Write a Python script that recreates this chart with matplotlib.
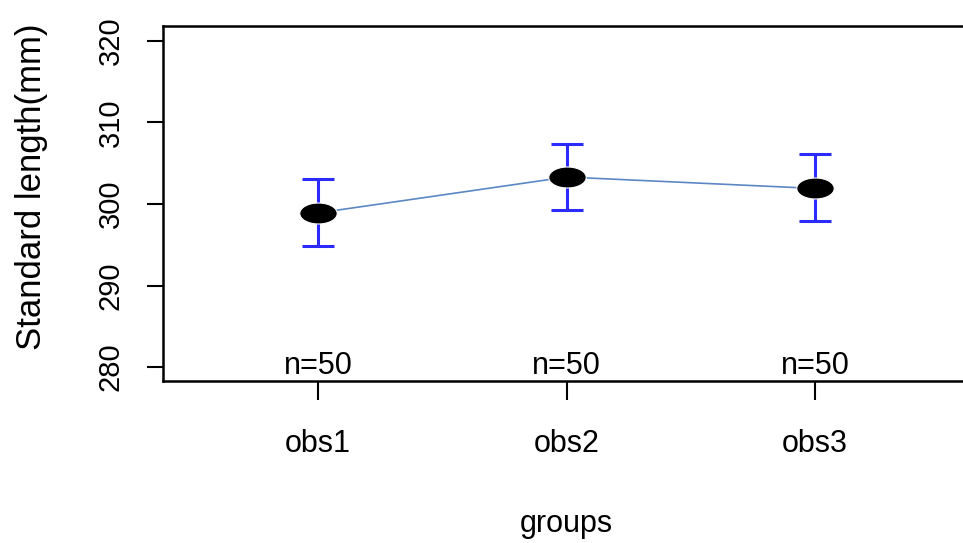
import numpy as np
import matplotlib.pyplot as plt
from matplotlib.path import Path

# group means with 95% confidence bounds
groups = ["obs1", "obs2", "obs3"]
means = [298.9, 303.3, 301.9]
ci_low = [294.9, 299.2, 297.9]
ci_high = [303.0, 307.4, 306.1]
counts = [50, 50, 50]

plt.rcParams['font.family'] = ['Liberation Sans', 'DejaVu Sans']

x = np.arange(1, len(groups) + 1)
m = np.array(means)
yerr = np.vstack([m - np.array(ci_low), np.array(ci_high) - m])

# flattened ellipse used as the point marker
t = np.linspace(0, 2 * np.pi, 60)
ellipse = Path(np.column_stack([np.cos(t), 0.56 * np.sin(t)]), closed=True)

fig = plt.figure(figsize=(9.63, 5.43), dpi=100)
ax = fig.add_axes([0.1693, 0.2983, 0.838, 0.6537])

ax.plot(x, m, color='#5b87c5', lw=1.2, zorder=1)
ax.errorbar(x, m, yerr=yerr, fmt='none', ecolor='#2b2bff', elinewidth=2.2,
            capsize=11.5, capthick=2.2, zorder=2)
ax.plot(x, m, linestyle='none', marker=ellipse, markersize=27,
        color='black', markeredgecolor='white', markeredgewidth=0.8, zorder=3)

for xi, n in zip(x, counts):
    ax.annotate(f"n={n}", xy=(xi, 0), xycoords=('data', 'axes fraction'),
                xytext=(0, 0), textcoords='offset points',
                ha='center', va='bottom', fontsize=22)

ax.set_xlim(0.376, 3.624)
ax.set_ylim(278.3, 321.8)
ax.set_xticks(x)
ax.set_xticklabels(groups)
ax.set_yticks([280, 290, 300, 310, 320])
ax.tick_params(axis='y', labelrotation=90, length=11.5, width=1.5,
               pad=16, labelsize=21)
ax.tick_params(axis='x', length=13.7, width=1.5, pad=21, labelsize=22)
for lab in ax.get_yticklabels():
    lab.set_va('center')

for s in ax.spines.values():
    s.set_linewidth(1.8)

ax.set_xlabel("groups", fontsize=22)
ax.set_ylabel("Standard length(mm)", fontsize=25)
ax.xaxis.set_label_coords(0.5, -0.36)
ax.yaxis.set_label_coords(-0.143, 0.547)

fig.savefig("out.png", dpi=100)
